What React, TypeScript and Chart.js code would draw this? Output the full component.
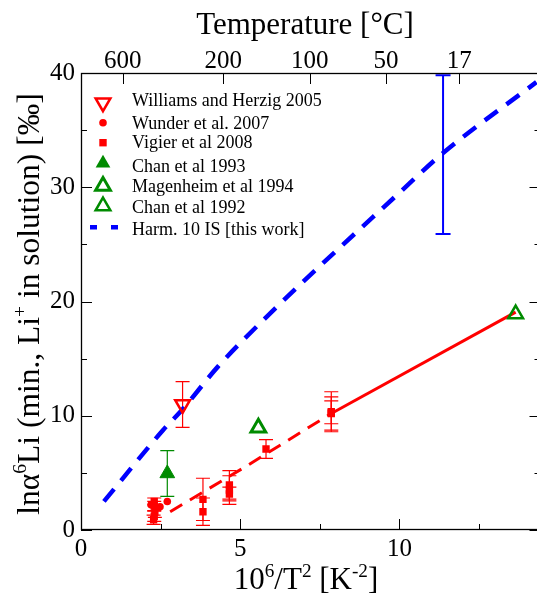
import React, { useEffect, useRef } from 'react';
import { Chart, registerables } from 'chart.js';
Chart.register(...registerables);

const FONT = "'Liberation Serif', 'Times New Roman', serif";
const RED = 'rgb(255,0,0)';
const GREEN = 'rgb(0,139,0)';
const BLUE = 'rgb(0,0,255)';

// ---- data ----
const williamsX = [3.19];
const williamsY = [10.99];
const williamsErr = [2.0];

const wunderX = [2.2, 2.48, 2.71];
const wunderY = [2.2, 2.04, 2.5];

const vigierX = [2.3, 2.3, 2.32, 2.3, 2.28, 3.83, 3.83, 4.66, 4.66, 4.66, 5.81, 7.86, 7.86, 7.86];
const vigierY = [2.5, 2.1, 1.6, 1.2, 0.9, 2.68, 1.6, 3.95, 3.5, 3.15, 7.09, 10.35, 10.2, 10.3];
const vigierErr = [0.3, 0.4, 0.5, 0.45, 0.4, 1.85, 1.2, 1.25, 1.25, 0.6, 0.82, 1.75, 1.45, 1.0];

const chan1993X = [2.71];
const chan1993Y = [4.95];
const chan1993Err = [2.0];

const magenheimX = [5.57];
const magenheimY = [8.95];

const chan1992X = [13.65];
const chan1992Y = [18.9];

const harmX = [0.72, 2.58, 3.17, 4.3, 5.94, 10.03, 11.37, 14.3];
const harmY = [2.5, 8.75, 10.5, 14.3, 18.96, 29.6, 33.0, 39.2];
const harmErrX = [11.37];
const harmErrLo = [25.9];
const harmErrHi = [39.8];

const fitDashedX = [2.8, 5.2, 7.86];
const fitDashedY = [1.6, 5.6, 10.2];
const fitSolidX = [7.86, 13.65];
const fitSolidY = [10.2, 19.07];

const xMajorTicks = [0, 5, 10];
const xMinorTicks = [2.5, 7.5, 12.5];
const yMajorTicks = [0, 10, 20, 30, 40];
const yMinorTicks = [5, 15, 25, 35];
const topTempC = [600, 200, 100, 50, 17];

const legendLabels = [
  'Williams and Herzig 2005',
  'Wunder et al. 2007',
  'Vigier et al 2008',
  'Chan et al 1993',
  'Magenheim et al 1994',
  'Chan et al 1992',
  'Harm. 10 IS [this work]',
];

const pts = (xs: number[], ys: number[]) => xs.map((x, i) => ({ x, y: ys[i] }));
const tempToX = (t: number) => 1e6 / Math.pow(t + 273.15, 2);

type Part = { t: string; sup?: boolean };
function drawRich(ctx: CanvasRenderingContext2D, parts: Part[], cx: number, by: number, size: number) {
  const supSize = size * 0.62;
  const rise = size * 0.4;
  let total = 0;
  const widths = parts.map((p) => {
    ctx.font = `${p.sup ? supSize : size}px ${FONT}`;
    const w = ctx.measureText(p.t).width;
    total += w;
    return w;
  });
  let x = cx - total / 2;
  ctx.textAlign = 'left';
  ctx.textBaseline = 'alphabetic';
  parts.forEach((p, i) => {
    ctx.font = `${p.sup ? supSize : size}px ${FONT}`;
    ctx.fillText(p.t, x, by - (p.sup ? rise : 0));
    x += widths[i];
  });
}

function triPath(ctx: CanvasRenderingContext2D, x: number, y: number, r: number, down: boolean) {
  const s = down ? -1 : 1;
  ctx.beginPath();
  ctx.moveTo(x, y - s * r);
  ctx.lineTo(x + r * Math.sin((2 * Math.PI) / 3), y + s * r * 0.5);
  ctx.lineTo(x - r * Math.sin((2 * Math.PI) / 3), y + s * r * 0.5);
  ctx.closePath();
}

const customPlugin = {
  id: 'custom',
  beforeDatasetsDraw(chart: any) {
    const ctx: CanvasRenderingContext2D = chart.ctx;
    const xs = chart.scales.x;
    const ys = chart.scales.y;
    const bars = (X: number[], lo: number[], hi: number[], color: string, lw: number, cap: number) => {
      ctx.save();
      ctx.strokeStyle = color;
      ctx.lineWidth = lw;
      X.forEach((x, i) => {
        const px = xs.getPixelForValue(x);
        const p1 = ys.getPixelForValue(lo[i]);
        const p2 = ys.getPixelForValue(hi[i]);
        ctx.beginPath();
        ctx.moveTo(px, p1);
        ctx.lineTo(px, p2);
        ctx.moveTo(px - cap / 2, p1);
        ctx.lineTo(px + cap / 2, p1);
        ctx.moveTo(px - cap / 2, p2);
        ctx.lineTo(px + cap / 2, p2);
        ctx.stroke();
      });
      ctx.restore();
    };
    bars(vigierX, vigierY.map((y, i) => y - vigierErr[i]), vigierY.map((y, i) => y + vigierErr[i]), RED, 1.2, 14);
    bars(williamsX, williamsY.map((y, i) => y - williamsErr[i]), williamsY.map((y, i) => y + williamsErr[i]), RED, 1.2, 14);
    bars(chan1993X, chan1993Y.map((y, i) => y - chan1993Err[i]), chan1993Y.map((y, i) => y + chan1993Err[i]), GREEN, 1.2, 14);
    bars(harmErrX, harmErrLo, harmErrHi, BLUE, 2, 15);
  },
  afterDraw(chart: any) {
    const ctx: CanvasRenderingContext2D = chart.ctx;
    const { left, right, top, bottom } = chart.chartArea;
    const xs = chart.scales.x;
    const ys = chart.scales.y;
    ctx.save();
    ctx.strokeStyle = '#000';
    ctx.lineWidth = 1;
    const line = (x1: number, y1: number, x2: number, y2: number) => {
      ctx.beginPath();
      ctx.moveTo(x1, y1);
      ctx.lineTo(x2, y2);
      ctx.stroke();
    };
    xMajorTicks.forEach((v) => {
      const p = Math.round(xs.getPixelForValue(v)) + 0.5;
      line(p, bottom, p, bottom - 11);
    });
    xMinorTicks.forEach((v) => {
      const p = Math.round(xs.getPixelForValue(v)) + 0.5;
      line(p, bottom, p, bottom - 6);
    });
    topTempC.forEach((t) => {
      const p = Math.round(xs.getPixelForValue(tempToX(t))) + 0.5;
      line(p, top, p, top + 11);
    });
    yMajorTicks.forEach((v) => {
      const p = Math.round(ys.getPixelForValue(v)) + 0.5;
      line(left, p, left + 11, p);
      line(right, p, right - 11, p);
    });
    yMinorTicks.forEach((v) => {
      const p = Math.round(ys.getPixelForValue(v)) + 0.5;
      line(left, p, left + 6, p);
      line(right, p, right - 6, p);
    });
    ctx.lineWidth = 1.3;
    ctx.strokeRect(left + 0.5, top + 0.5, right - left - 1, bottom - top - 1);

    // titles
    ctx.fillStyle = '#000';
    ctx.font = `31px ${FONT}`;
    ctx.textAlign = 'center';
    ctx.textBaseline = 'alphabetic';
    ctx.fillText('Temperature [°C]', 305, 34);
    drawRich(ctx, [{ t: '10' }, { t: '6', sup: true }, { t: '/T' }, { t: '2', sup: true }, { t: ' [K' }, { t: '-2', sup: true }, { t: ']' }], 306, 589, 31);
    ctx.save();
    ctx.translate(39, 304);
    ctx.rotate(-Math.PI / 2);
    drawRich(ctx, [{ t: 'lnα' }, { t: '6', sup: true }, { t: 'Li (min., Li' }, { t: '+', sup: true }, { t: ' in solution) [‰]' }], 0, 0, 31.5);
    ctx.restore();

    // legend
    const mx = 103;
    const baselines = [106, 129, 148, 172, 192, 213, 235];
    const my = [102.7, 122.7, 142.7, 163.3, 186, 206, 227.3];
    ctx.font = `18px ${FONT}`;
    ctx.textAlign = 'left';
    ctx.textBaseline = 'alphabetic';
    legendLabels.forEach((l, i) => ctx.fillText(l, 132, baselines[i]));
    // markers
    ctx.lineJoin = 'miter';
    triPath(ctx, mx, my[0], 8.5, true);
    ctx.strokeStyle = RED; ctx.lineWidth = 2.5; ctx.stroke();
    ctx.beginPath(); ctx.arc(mx, my[1], 3.8, 0, Math.PI * 2); ctx.fillStyle = RED; ctx.fill();
    ctx.fillRect(mx - 3.7, my[2] - 3.7, 7.4, 7.4);
    triPath(ctx, mx, my[3], 8.5, false); ctx.fillStyle = GREEN; ctx.fill();
    triPath(ctx, mx, my[4], 8.5, false); ctx.strokeStyle = GREEN; ctx.lineWidth = 3; ctx.stroke();
    triPath(ctx, mx, my[5], 8.5, false); ctx.lineWidth = 2.5; ctx.stroke();
    ctx.strokeStyle = BLUE; ctx.lineWidth = 4.5; ctx.setLineDash([7, 14]);
    line(90, my[6], 118, my[6]);
    ctx.setLineDash([]);
    ctx.restore();
  },
};

export default function App() {
  const ref = useRef<HTMLCanvasElement>(null);
  useEffect(() => {
    const canvas = ref.current!;
    const tickFont = { family: FONT, size: 25 };
    const noPad = (s: any) => { s.paddingLeft = 0; s.paddingRight = 0; s.paddingTop = 0; s.paddingBottom = 0; };
    const chart = new Chart(canvas, {
      type: 'scatter',
      data: {
        datasets: [
          { label: legendLabels[0], data: pts(williamsX, williamsY), pointStyle: 'triangle', pointRotation: 180, pointRadius: 8.5, pointBorderColor: RED, pointBackgroundColor: 'rgba(0,0,0,0)', pointBorderWidth: 2.5, order: 1 } as any,
          { label: legendLabels[1], data: pts(wunderX, wunderY), pointStyle: 'circle', pointRadius: 3.8, pointBorderColor: RED, pointBackgroundColor: RED, pointBorderWidth: 0, order: 1 } as any,
          { label: legendLabels[2], data: pts(vigierX, vigierY), pointStyle: 'rect', pointRadius: 5.2, pointBorderColor: RED, pointBackgroundColor: RED, pointBorderWidth: 0, order: 1 } as any,
          { label: legendLabels[3], data: pts(chan1993X, chan1993Y), pointStyle: 'triangle', pointRadius: 8.5, pointBorderColor: GREEN, pointBackgroundColor: GREEN, pointBorderWidth: 1, order: 1 } as any,
          { label: legendLabels[4], data: pts(magenheimX, magenheimY), pointStyle: 'triangle', pointRadius: 8.5, pointBorderColor: GREEN, pointBackgroundColor: 'rgba(0,0,0,0)', pointBorderWidth: 3, order: 1 } as any,
          { label: legendLabels[5], data: pts(chan1992X, chan1992Y), pointStyle: 'triangle', pointRadius: 8.5, pointBorderColor: GREEN, pointBackgroundColor: 'rgba(0,0,0,0)', pointBorderWidth: 2.5, order: 1 } as any,
          { label: legendLabels[6], data: pts(harmX, harmY), showLine: true, pointRadius: 0, borderColor: BLUE, borderWidth: 4.5, borderDash: [16, 11], cubicInterpolationMode: 'monotone', order: 5 } as any,
          { label: 'fit dashed', data: pts(fitDashedX, fitDashedY), showLine: true, pointRadius: 0, borderColor: RED, borderWidth: 3, borderDash: [14, 9], order: 5 } as any,
          { label: 'fit solid', data: pts(fitSolidX, fitSolidY), showLine: true, pointRadius: 0, borderColor: RED, borderWidth: 3, order: 5 } as any,
        ],
      },
      options: {
        responsive: false,
        animation: false,
        events: [],
        layout: { padding: { left: 0, right: 1, top: 0, bottom: 0 } },
        plugins: { legend: { display: false }, tooltip: { enabled: false } },
        scales: {
          x: {
            type: 'linear', position: 'bottom', min: 0, max: 14.43,
            grid: { display: false, drawTicks: false }, border: { display: false },
            afterBuildTicks: (s: any) => { s.ticks = xMajorTicks.map((v) => ({ value: v })); },
            afterFit: (s: any) => { s.height = 69; noPad(s); },
            ticks: { font: tickFont, color: '#000', padding: 4, autoSkip: false, maxRotation: 0, callback: (v: any) => String(v) },
          },
          x2: {
            type: 'linear', axis: 'x', position: 'top', min: 0, max: 14.43,
            grid: { display: false, drawTicks: false }, border: { display: false },
            afterBuildTicks: (s: any) => { s.ticks = topTempC.map((t) => ({ value: tempToX(t) })); },
            afterFit: (s: any) => { s.height = 73; noPad(s); },
            ticks: { font: tickFont, color: '#000', padding: -3, autoSkip: false, maxRotation: 0, callback: (_v: any, i: number) => String(topTempC[i]) },
          },
          y: {
            type: 'linear', position: 'left', min: 0, max: 40,
            grid: { display: false, drawTicks: false }, border: { display: false },
            afterBuildTicks: (s: any) => { s.ticks = yMajorTicks.map((v) => ({ value: v })); },
            afterFit: (s: any) => { s.width = 81; noPad(s); },
            ticks: { font: tickFont, color: '#000', padding: 6, callback: (v: any) => String(v) },
          },
        },
      } as any,
      plugins: [customPlugin],
    });
    return () => chart.destroy();
  }, []);
  return (
    <div style={{ position: 'fixed', left: 0, top: 0, width: 537, height: 599, overflow: 'hidden', background: '#fff' }}>
      <canvas ref={ref} width={552} height={599} style={{ display: 'block' }} />
    </div>
  );
}
